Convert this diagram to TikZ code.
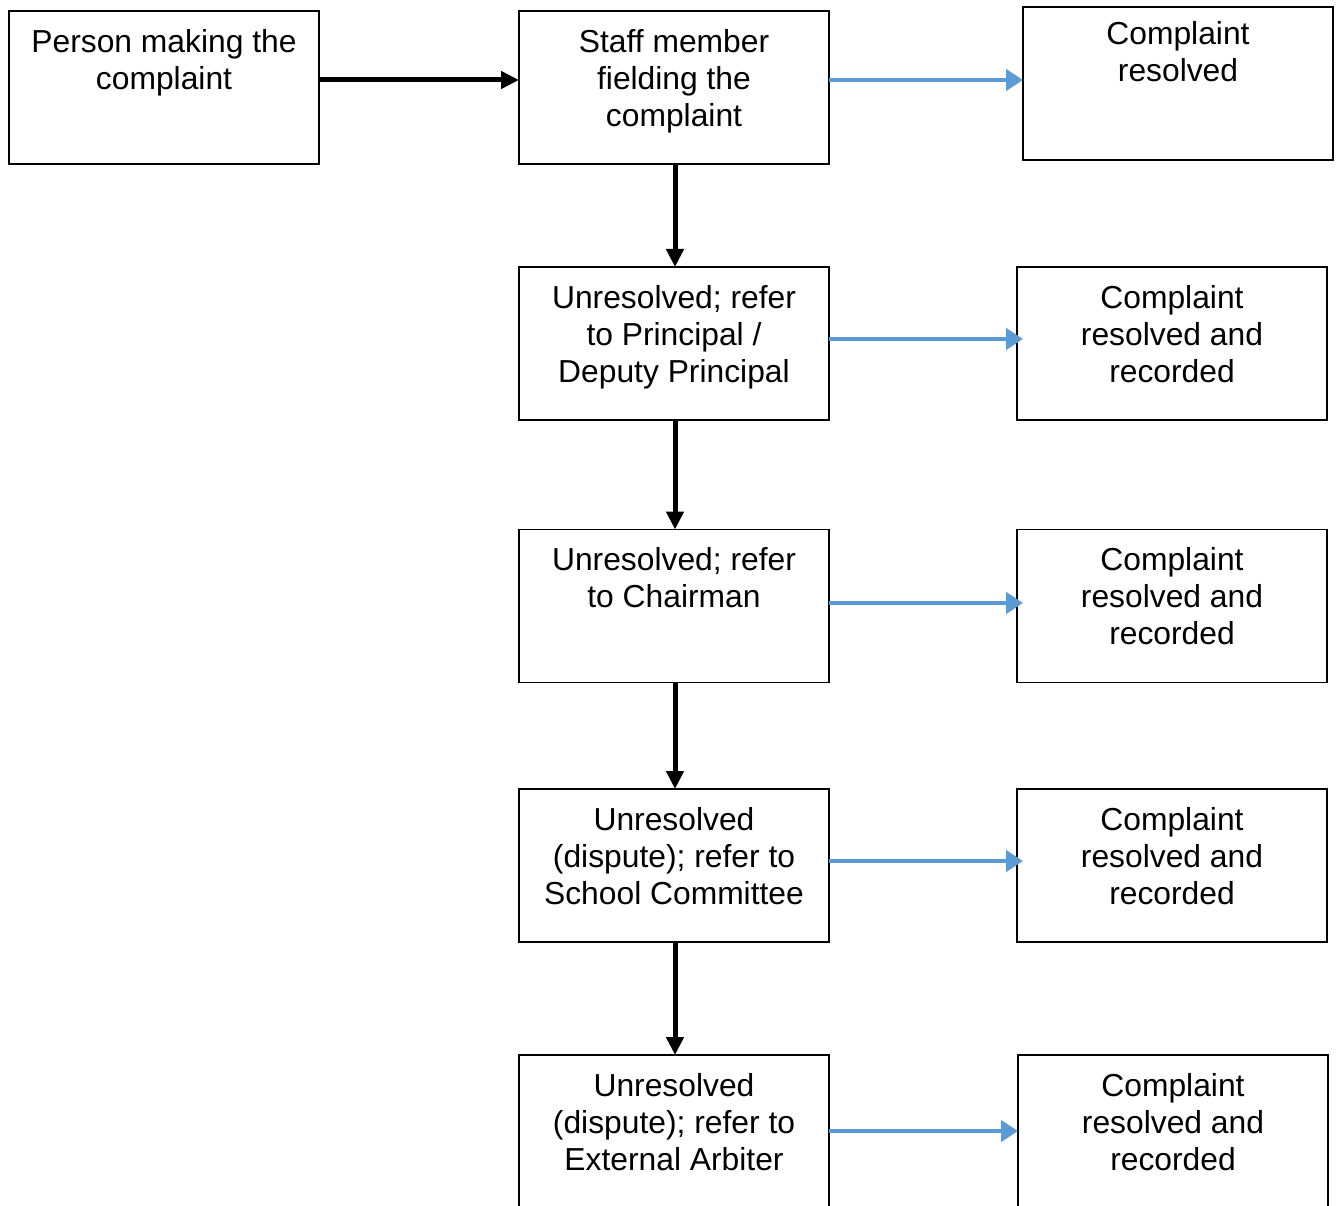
\documentclass[tikz,border=0pt]{standalone}
\usepackage{fontspec}
\setmainfont{Liberation Sans}
\usetikzlibrary{arrows.meta}
\definecolor{arrowblue}{HTML}{5B9BD5}
\newcommand{\boxfont}{\fontsize{31.8}{37}\selectfont}
\begin{document}
\begin{tikzpicture}[x=1pt,y=-1pt,
  flowbox/.style={draw=black, line width=1.8pt, rectangle, minimum width=310pt, minimum height=153pt, inner sep=0pt, outer sep=0pt},
  boxtext/.style={anchor=north, align=center, font=\boxfont, inner sep=0pt},
  blackarrow/.style={draw=black, line width=5pt, -{Triangle[length=18pt,width=17pt]}},
  bluearrow/.style={draw=arrowblue, line width=4.5pt, -{Triangle[length=17pt,width=21pt]}}]
\useasboundingbox (0,0) rectangle (1340,1206);
\fill[white] (0,0) rectangle (1340,1206);
% boxes (centre positions)
\node[flowbox] (p) at (164,87.5) {};
\node[flowbox] (s1) at (674,87.5) {};
\node[flowbox] (r1) at (1178,83.5) {};
\node[flowbox] (s2) at (674,343.5) {};
\node[flowbox] (r2) at (1172,343.5) {};
\node[flowbox] (s3) at (674,606) {};
\node[flowbox] (r3) at (1172,606) {};
\node[flowbox] (s4) at (674,865.5) {};
\node[flowbox] (r4) at (1172,865.5) {};
\node[flowbox, minimum height=165pt] (s5) at (674,1137.5) {};
\node[flowbox, minimum height=165pt] (r5) at (1173,1137.5) {};
% texts
\node[boxtext] (tp) at ([yshift=-15pt]p.north) {\strut Person making the\\complaint};
\node[boxtext] (ts1) at ([yshift=-15pt]s1.north) {\strut Staff member\\fielding the\\complaint};
\node[boxtext] (tr1) at ([yshift=-11pt]r1.north) {\strut Complaint\\resolved};
\node[boxtext] (ts2) at ([yshift=-15pt]s2.north) {\strut Unresolved; refer\\to Principal /\\Deputy Principal};
\node[boxtext] (tr2) at ([yshift=-15pt]r2.north) {\strut Complaint\\resolved and\\recorded};
\node[boxtext] (ts3) at ([yshift=-15pt]s3.north) {\strut Unresolved; refer\\to Chairman};
\node[boxtext] (tr3) at ([yshift=-15pt]r3.north) {\strut Complaint\\resolved and\\recorded};
\node[boxtext] (ts4) at ([yshift=-15pt]s4.north) {\strut Unresolved\\(dispute); refer to\\School Committee};
\node[boxtext] (tr4) at ([yshift=-15pt]r4.north) {\strut Complaint\\resolved and\\recorded};
\node[boxtext] (ts5) at ([yshift=-15pt]s5.north) {\strut Unresolved\\(dispute); refer to\\External Arbiter};
\node[boxtext] (tr5) at ([yshift=-15pt]r5.north) {\strut Complaint\\resolved and\\recorded};
% arrow heights
\coordinate (y1) at (0,80);
\coordinate (y2) at (0,339);
\coordinate (y3) at (0,603);
\coordinate (y4) at (0,861);
\coordinate (y5) at (0,1131);
\coordinate (e2) at (1023,339);
\coordinate (e3) at (1023,603);
\coordinate (e4) at (1023,861);
% black arrows
\draw[blackarrow] (p.east |- y1) -- (s1.west |- y1);
\draw[blackarrow] ([xshift=1pt]s1.south) -- ([xshift=1pt]s2.north);
\draw[blackarrow] ([xshift=1pt]s2.south) -- ([xshift=1pt]s3.north);
\draw[blackarrow] ([xshift=1pt]s3.south) -- ([xshift=1pt]s4.north);
\draw[blackarrow] ([xshift=1pt]s4.south) -- ([xshift=1pt]s5.north);
% blue arrows
\draw[bluearrow] (s1.east |- y1) -- (r1.west |- y1);
\draw[bluearrow] (s2.east |- y2) -- (e2);
\draw[bluearrow] (s3.east |- y3) -- (e3);
\draw[bluearrow] (s4.east |- y4) -- (e4);
\draw[bluearrow] (s5.east |- y5) -- (r5.west |- y5);
\end{tikzpicture}
\end{document}
